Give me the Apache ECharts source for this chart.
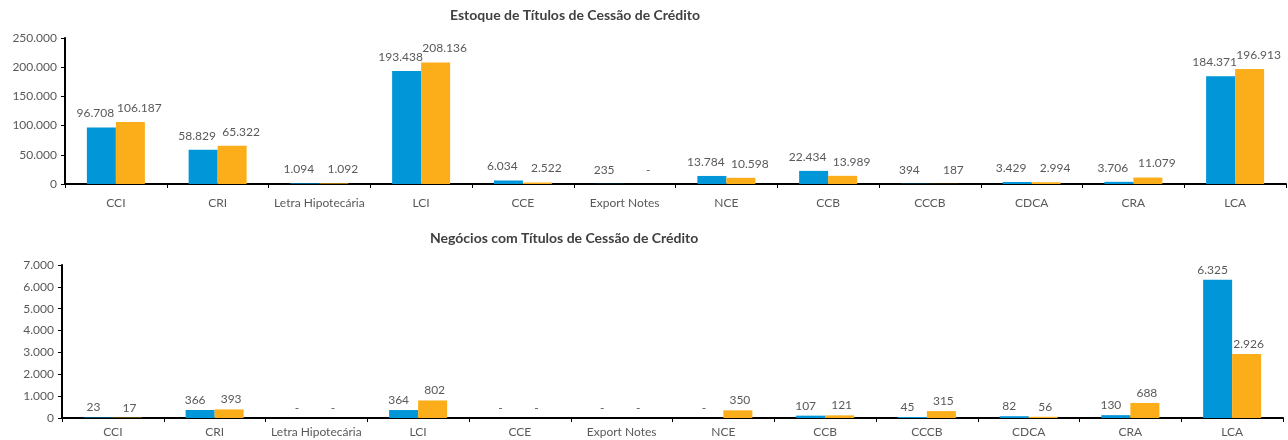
<!DOCTYPE html>
<html>
<head>
<meta charset="utf-8">
<title>Títulos de Cessão de Crédito</title>
<script src="https://cdn.jsdelivr.net/npm/echarts@6/dist/echarts.min.js"></script>
<style>
  html, body { margin: 0; padding: 0; background: #fff; }
  #chart { width: 1288px; height: 440px; }
</style>
</head>
<body>
<div id="chart"></div>
<script>
'use strict';

// categorias (iguais nos dois graficos)
var categorias = ['CCI', 'CRI', 'Letra Hipotecária', 'LCI', 'CCE', 'Export Notes',
  'NCE', 'CCB', 'CCCB', 'CDCA', 'CRA', 'LCA'];

// Estoque - duas series (azul / laranja)
var estoqueAzul    = [96708, 58829, 1094, 193438, 6034, 235, 13784, 22434, 394, 3429, 3706, 184371];
var estoqueLaranja = [106187, 65322, 1092, 208136, 2522, 0, 10598, 13989, 187, 2994, 11079, 196913];

// Negocios
var negociosAzul    = [23, 366, 0, 364, 0, 0, 0, 107, 45, 82, 130, 6325];
var negociosLaranja = [17, 393, 0, 802, 0, 0, 350, 121, 315, 56, 688, 2926];

// eixos y
var estoqueTicks  = { min: 0, max: 250000, interval: 50000 };
var negociosTicks = { min: 0, max: 7000, interval: 1000 };

var titulos = ['Estoque de Títulos de Cessão de Crédito', 'Negócios com Títulos de Cessão de Crédito'];

var AZUL = '#0096d8';
var LARANJA = '#fbae19';
var CINZA = '#595959';
var FONTE = 'Lato, "Open Sans", sans-serif';

// 12345 -> "12.345", 0 -> "-"
function fmt(v) {
  if (!v) return v === 0 ? '-' : '';
  return String(v).replace(/\B(?=(\d{3})+(?!\d))/g, '.');
}
function fmtEixo(v) {
  if (v === 0) return '0';
  return fmt(v);
}

function eixoX(grid, margem) {
  return {
    type: 'category',
    gridIndex: grid,
    data: categorias,
    axisLine: { lineStyle: { color: '#000', width: 2 } },
    axisTick: { show: true, length: 4, lineStyle: { color: '#000' } },
    axisLabel: { color: CINZA, fontSize: 12, fontFamily: FONTE, margin: margem, interval: 0 }
  };
}

function eixoY(grid, ticks) {
  return {
    type: 'value',
    gridIndex: grid,
    min: ticks.min,
    max: ticks.max,
    interval: ticks.interval,
    splitLine: { show: false },
    axisLine: { show: true, lineStyle: { color: '#000', width: 2 } },
    axisTick: { show: true, length: 4, lineStyle: { color: '#000' } },
    axisLabel: { color: CINZA, fontSize: 12, fontFamily: FONTE, margin: 8, formatter: fmtEixo }
  };
}

function barra(nome, dados, cor, idx, offsetX, dist) {
  return {
    name: nome,
    type: 'bar',
    xAxisIndex: idx,
    yAxisIndex: idx,
    data: dados,
    barWidth: 29,
    barGap: '0%',
    itemStyle: { color: cor },
    label: {
      show: true,
      position: 'top',
      distance: dist,
      offset: [offsetX, 0],
      color: CINZA,
      fontSize: 12,
      fontFamily: FONTE,
      formatter: function (p) { return fmt(p.value); }
    }
  };
}

var myChart = echarts.init(document.getElementById('chart'));

var estiloTitulo = { fontSize: 14, fontWeight: 'bold', color: '#404040', fontFamily: FONTE };

var option = {
  animation: false,
  backgroundColor: '#fff',
  title: [
    { text: titulos[0], left: 450, top: 8, padding: 0, textStyle: estiloTitulo },
    { text: titulos[1], left: 430, top: 231, padding: 0, textStyle: estiloTitulo }
  ],
  grid: [
    { left: 65, right: 2, top: 38, height: 146 },
    { left: 62, right: 5, top: 265, height: 153 }
  ],
  xAxis: [eixoX(0, 13), eixoX(1, 8)],
  yAxis: [eixoY(0, estoqueTicks), eixoY(1, negociosTicks)],
  series: [
    barra('Estoque 1', estoqueAzul, AZUL, 0, -6, 8),
    barra('Estoque 2', estoqueLaranja, LARANJA, 0, 9, 8),
    barra('Negócios 1', negociosAzul, AZUL, 1, -5, 4),
    barra('Negócios 2', negociosLaranja, LARANJA, 1, 2, 4)
  ]
};

myChart.setOption(option);
</script>
</body>
</html>
